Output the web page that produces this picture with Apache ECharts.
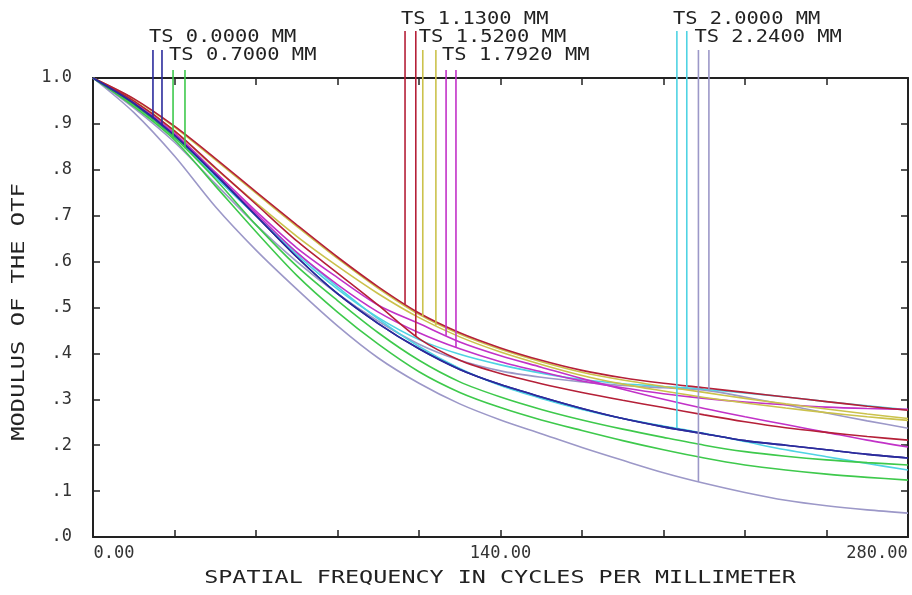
<!DOCTYPE html>
<html>
<head>
<meta charset="utf-8">
<script src="https://cdn.jsdelivr.net/npm/echarts@6/dist/echarts.min.js"></script>
<style>
html, body { margin: 0; padding: 0; background: #fff; }
#main { width: 912px; height: 595px; }
</style>
</head>
<body>
<div id="main"></div>
<script>
// spatial frequency samples (cycles/mm)
var freqs = [0, 14, 28, 42, 56, 70, 84, 98, 112, 126, 140, 154, 168, 182, 196, 210, 224, 238, 252, 266, 280];

// MTF values, tangential (T) and sagittal (S) for each field
var blueT    = [1.000, 0.945, 0.875, 0.790, 0.700, 0.610, 0.530, 0.465, 0.410, 0.365, 0.332, 0.305, 0.280, 0.258, 0.240, 0.225, 0.210, 0.200, 0.190, 0.180, 0.172];
var blueS    = [1.000, 0.945, 0.875, 0.790, 0.700, 0.610, 0.530, 0.465, 0.410, 0.365, 0.332, 0.305, 0.280, 0.258, 0.240, 0.225, 0.210, 0.200, 0.190, 0.180, 0.172];
var greenT   = [1.000, 0.938, 0.865, 0.765, 0.665, 0.570, 0.490, 0.420, 0.360, 0.315, 0.282, 0.255, 0.232, 0.210, 0.190, 0.172, 0.157, 0.146, 0.137, 0.130, 0.124];
var greenS   = [1.000, 0.942, 0.870, 0.780, 0.680, 0.590, 0.515, 0.445, 0.385, 0.338, 0.305, 0.278, 0.255, 0.235, 0.217, 0.200, 0.186, 0.176, 0.168, 0.162, 0.157];
var redT     = [1.000, 0.955, 0.895, 0.825, 0.752, 0.680, 0.610, 0.545, 0.488, 0.445, 0.412, 0.385, 0.363, 0.347, 0.335, 0.325, 0.315, 0.305, 0.295, 0.285, 0.276];
var redS     = [1.000, 0.950, 0.885, 0.805, 0.725, 0.645, 0.575, 0.505, 0.432, 0.385, 0.356, 0.334, 0.315, 0.298, 0.282, 0.266, 0.251, 0.238, 0.228, 0.219, 0.211];
var yellowT  = [1.000, 0.954, 0.893, 0.822, 0.749, 0.677, 0.607, 0.542, 0.485, 0.442, 0.409, 0.382, 0.359, 0.342, 0.328, 0.315, 0.302, 0.290, 0.279, 0.268, 0.258];
var yellowS  = [1.000, 0.950, 0.885, 0.803, 0.728, 0.655, 0.590, 0.530, 0.478, 0.436, 0.403, 0.376, 0.352, 0.333, 0.318, 0.304, 0.292, 0.281, 0.271, 0.262, 0.254];
var magentaT = [1.000, 0.948, 0.880, 0.795, 0.710, 0.630, 0.565, 0.505, 0.465, 0.425, 0.395, 0.370, 0.345, 0.322, 0.300, 0.280, 0.262, 0.245, 0.228, 0.211, 0.196];
var magentaS = [1.000, 0.946, 0.878, 0.790, 0.705, 0.620, 0.550, 0.490, 0.445, 0.410, 0.382, 0.360, 0.340, 0.325, 0.312, 0.302, 0.294, 0.288, 0.283, 0.280, 0.278];
var cyanT    = [1.000, 0.942, 0.870, 0.785, 0.700, 0.620, 0.545, 0.475, 0.415, 0.367, 0.330, 0.302, 0.278, 0.258, 0.242, 0.226, 0.208, 0.190, 0.175, 0.160, 0.146];
var cyanS    = [1.000, 0.944, 0.875, 0.785, 0.700, 0.615, 0.540, 0.478, 0.430, 0.398, 0.375, 0.357, 0.343, 0.334, 0.328, 0.322, 0.314, 0.305, 0.295, 0.286, 0.277];
var grayT    = [1.000, 0.925, 0.830, 0.720, 0.625, 0.540, 0.460, 0.390, 0.335, 0.290, 0.255, 0.225, 0.195, 0.167, 0.140, 0.117, 0.097, 0.080, 0.068, 0.059, 0.052];
var grayS    = [1.000, 0.935, 0.860, 0.770, 0.680, 0.600, 0.530, 0.470, 0.420, 0.385, 0.362, 0.348, 0.338, 0.330, 0.325, 0.320, 0.305, 0.288, 0.270, 0.253, 0.237];

var fieldNames = ['TS 0.0000 MM', 'TS 0.7000 MM', 'TS 1.1300 MM', 'TS 1.5200 MM', 'TS 1.7920 MM', 'TS 2.0000 MM', 'TS 2.2400 MM'];
// frequency where each legend stem meets its curve
var stemFreqT = [20.6, 27.5, 107.2, 113.3, 121.3, 200.6, 208.0];
var stemFreqS = [23.7, 31.6, 110.9, 117.8, 124.7, 204.0, 211.6];

var yTicks = ['.0', '.1', '.2', '.3', '.4', '.5', '.6', '.7', '.8', '.9', '1.0'];
var xTicks = ['0.00', '140.00', '280.00'];

var tData = [blueT, greenT, redT, yellowT, magentaT, cyanT, grayT];
var sData = [blueS, greenS, redS, yellowS, magentaS, cyanS, grayS];
var colors = ['#2b2b9c', '#3ec94c', '#b52038', '#cbc24c', '#c232c8', '#4fd3e3', '#9c98c8'];
var labelRow = [1, 2, 0, 1, 2, 0, 1];
var rowTextY = [20, 38, 56];
var rowStemY = [31, 50, 70];

var font = 'DejaVu Sans Mono';
var axisColor = '#222';
var gridBox = { left: 93, top: 78, width: 815, height: 459 };

var chart = echarts.init(document.getElementById('main'));

function pairs(arr) {
    var out = [];
    for (var i = 0; i < freqs.length; i++)
        out.push([freqs[i], arr[i]]);
    return out;
}

function interp(arr, f) {
    for (var i = 1; i < freqs.length; i++) {
        if (f <= freqs[i]) {
            var t = (f - freqs[i - 1]) / (freqs[i] - freqs[i - 1]);
            return arr[i - 1] + t * (arr[i] - arr[i - 1]);
        }
    }
    return arr[arr.length - 1];
}

// pixel row above the frame -> y value (axis runs 0..1 over the grid height)
function valueAtPixel(py) {
    return (gridBox.top + gridBox.height - py) / gridBox.height;
}
function pixelAtFreq(f) {
    return gridBox.left + f / 280 * gridBox.width;
}

function curve(arr, color) {
    return {
        type: 'line', data: pairs(arr), smooth: 0.3,
        symbol: 'none', silent: true,
        lineStyle: { color: color, width: 1.6 }
    };
}

function axisLine() {
    return { show: true, onZero: false, lineStyle: { color: axisColor, width: 2 } };
}
function tick() {
    return { show: true, inside: true, length: 7, lineStyle: { color: axisColor, width: 1.5 } };
}

var series = [];
for (var i = 6; i >= 0; i--) {
    series.push(curve(tData[i], colors[i]));
    series.push(curve(sData[i], colors[i]));
}

// legend stems run from under each label down to the curve
var labels = [];
for (var i = 0; i < 7; i++) {
    var row = labelRow[i];
    var topVal = valueAtPixel(rowStemY[row]);
    var fT = stemFreqT[i], fS = stemFreqS[i];
    series.push({
        type: 'line', data: [[fT, interp(tData[i], fT)], [fT, topVal]], clip: false,
        symbol: 'none', silent: true, lineStyle: { color: colors[i], width: 1.6 }
    });
    series.push({
        type: 'line', data: [[fS, interp(sData[i], fS)], [fS, topVal]], clip: false,
        symbol: 'none', silent: true, lineStyle: { color: colors[i], width: 1.6 }
    });
    labels.push({
        type: 'text',
        x: pixelAtFreq(fT) - 4,
        y: rowTextY[row],
        scaleX: 1.2,
        style: {
            text: fieldNames[i], font: '17px "' + font + '"', fill: '#222',
            textAlign: 'left', textVerticalAlign: 'middle'
        }
    });
}

labels.push({
    type: 'text', x: 500, y: 578, scaleX: 1.3,
    style: {
        text: 'SPATIAL FREQUENCY IN CYCLES PER MILLIMETER', font: '18px "' + font + '"', fill: '#222',
        textAlign: 'center', textVerticalAlign: 'middle'
    }
});
labels.push({
    type: 'text', x: 19, y: 312, rotation: Math.PI / 2, scaleX: 1.32,
    style: {
        text: 'MODULUS OF THE OTF', font: '18px "' + font + '"', fill: '#222',
        textAlign: 'center', textVerticalAlign: 'middle'
    }
});

chart.setOption({
    animation: false,
    grid: {
        left: gridBox.left, top: gridBox.top, width: gridBox.width, height: gridBox.height,
        outerBoundsMode: 'none'
    },
    xAxis: [
        {
            type: 'value', min: 0, max: 280, interval: 28, position: 'bottom',
            axisLine: axisLine(), axisTick: tick(), splitLine: { show: false },
            axisLabel: {
                margin: 8, fontFamily: font, fontSize: 17, color: '#333',
                formatter: function (v) {
                    if (v === 0) return '{l|' + xTicks[0] + '}';
                    if (v === 280) return '{r|' + xTicks[2] + '}';
                    return v === 140 ? xTicks[1] : '';
                },
                // shift end labels so they sit inside the frame
                rich: {
                    l: { fontFamily: font, fontSize: 17, color: '#333', padding: [0, 0, 0, 42] },
                    r: { fontFamily: font, fontSize: 17, color: '#333', padding: [0, 62, 0, 0] }
                }
            }
        },
        {
            type: 'value', min: 0, max: 280, interval: 28, position: 'top',
            axisLine: axisLine(), axisTick: tick(), splitLine: { show: false },
            axisLabel: { show: false }
        }
    ],
    yAxis: [
        {
            type: 'value', min: 0, max: 1, interval: 0.1, position: 'left',
            axisLine: axisLine(), axisTick: tick(), splitLine: { show: false },
            axisLabel: {
                margin: 21, fontFamily: font, fontSize: 17, color: '#333', padding: [0, 0, 10, 0],
                formatter: function (v) { return yTicks[Math.round(v * 10)]; }
            }
        },
        {
            type: 'value', min: 0, max: 1, interval: 0.1, position: 'right',
            axisLine: axisLine(), axisTick: tick(), splitLine: { show: false },
            axisLabel: { show: false }
        }
    ],
    series: series,
    graphic: labels
});
</script>
</body>
</html>
